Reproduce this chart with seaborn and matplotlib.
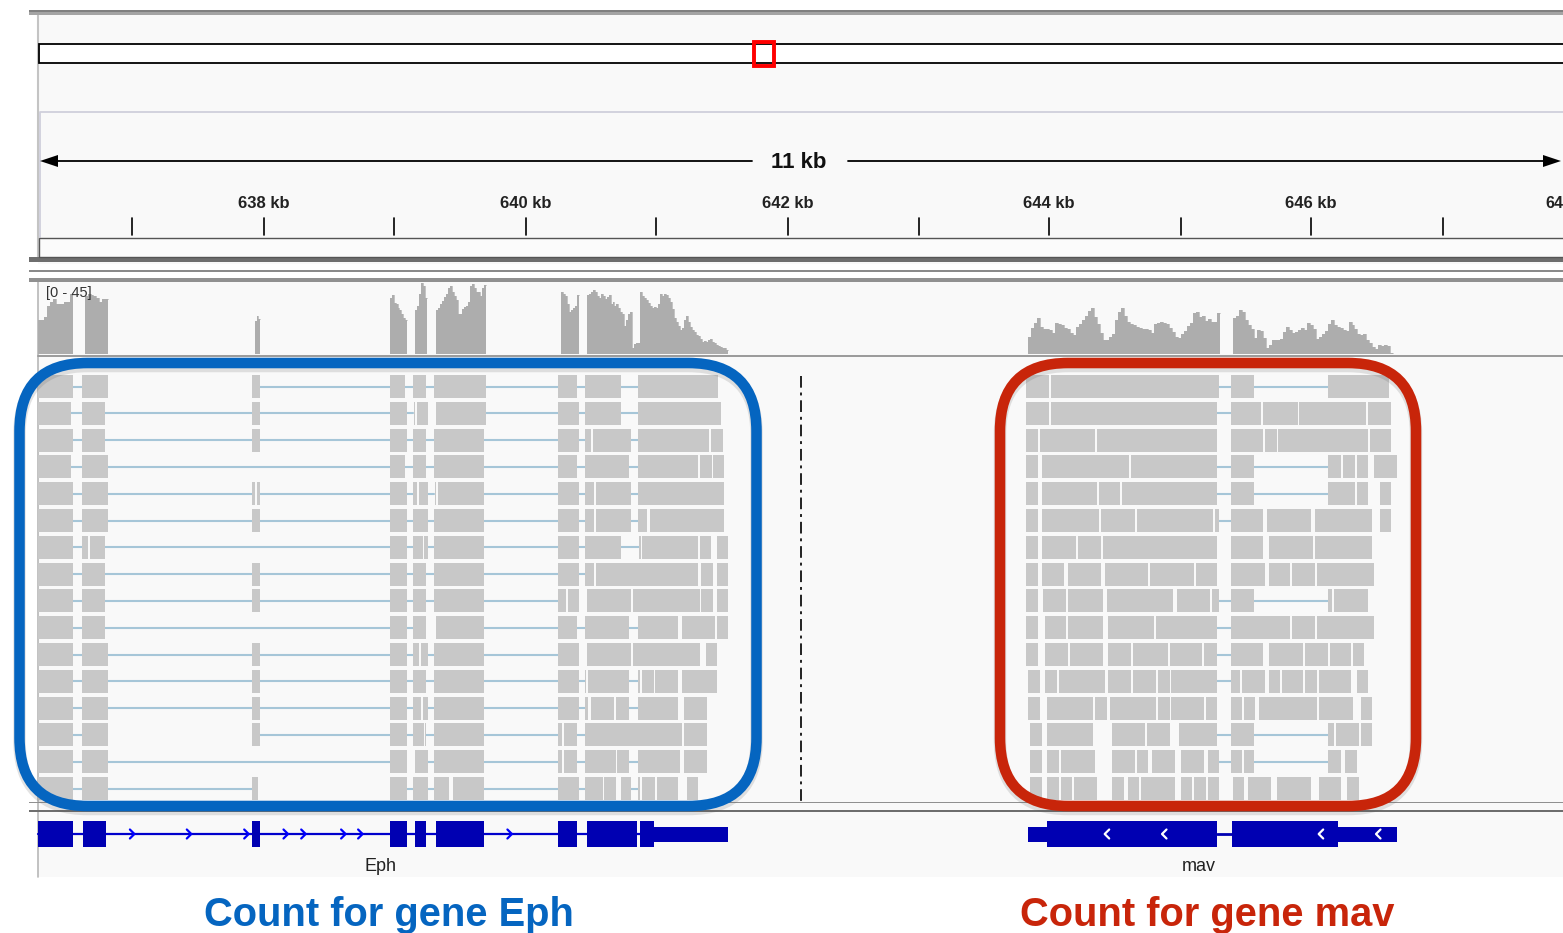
import numpy as np
import pandas as pd
import matplotlib
matplotlib.use("Agg")
import matplotlib.pyplot as plt
from matplotlib.patches import Rectangle, FancyBboxPatch
import seaborn as sns

# read blocks per row (start, end along the browser window)
eph_reads = [
    [(38,73),(82,107.6),(252,260),(390,405),(413,426),(434,485.5),(558,577),(585,621),(638,718)],
    [(38,71),(82,105),(252,260),(390,407),(413.5,415),(416.7,428),(436,485.5),(558,579),(585,621),(638,720.6)],
    [(38,73),(82,105),(252,260),(390,407),(413,426),(434,484),(558,579),(585,590.7),(592.5,630.6),(638,709),(711,722.5)],
    [(38,71),(82,107.6),(390,405),(413,426),(434,484),(558,577),(585,628.8),(638,697.7),(699.5,711.5),(713,724.3)],
    [(38,73),(82,107.6),(252,254.5),(256.5,260),(390,407),(413,417),(418.9,428),(434.5,436),(437.8,484),(558,579),(585,594),(596,630.6),(638,724.3)],
    [(38,73),(82,107.6),(252,260),(390,407),(413,428),(434,484),(558,579),(585,594),(596,630.6),(638,647),(649.5,724.3)],
    [(38,73),(82,88.3),(90.2,105),(390,407),(413,423),(424,428),(434,484),(558,579),(585,621),(639,641),(642,697.7),(699.5,711),(716.5,728)],
    [(38,73),(82,105),(252,260),(390,407),(413,426),(434,484),(558,579),(585,594),(596,697.7),(701.3,713),(716.5,728)],
    [(38,73),(82,105),(252,260),(390,407),(413,426),(434,484),(558,566),(568,579),(587,630.6),(632.5,700),(701.3,713),(716.5,728)],
    [(38,73),(82,105),(390,407),(413,426),(436,484),(558,577),(585,628.8),(638,678.4),(682,715),(716.5,728)],
    [(38,73),(82,107.6),(252,260),(390,407),(413,419),(421,428),(434,484),(558,579),(587,630.6),(632.5,700),(705.5,716.5)],
    [(38,73),(82,107.6),(252,260),(390,407),(413,426),(434,484),(558,579),(585,586),(588,628.8),(638.4,640.3),(642,653.6),(655.4,678.4),(682,716.5)],
    [(38,73),(82,107.6),(252,260),(390,407),(413,420.5),(422.6,428),(434,484),(558,579),(585,588),(590.7,614),(615.5,628.8),(638.4,678.4),(684.4,707.3)],
    [(38,73),(82,107.6),(252,260),(390,407),(413,423.5),(424.5,426),(434,484),(558,562),(564,577),(585,682),(684.4,707.3)],
    [(38,73),(82,107.6),(390,407),(414.8,428),(434,484),(558,562),(564,577),(585,615.5),(617.3,628.8),(638.4,680.2),(684.4,707.3)],
    [(38,73),(82,107.6),(252,258),(390,407),(413,428),(434,448.8),(452.9,484),(558,579),(585,602.6),(604,615.5),(620.5,630.6),(638,640),(642,655),(657,678.4),(686.5,698)],
]
eph_introns = [
    [(73,82),(260,390),(405,413),(426,434),(485,558),(577,585),(621,638)],
    [(71,82),(105,252),(260,390),(407,413),(485,558),(579,585),(621,638)],
    [(73,82),(105,252),(260,390),(407,413),(426,434),(484,558),(579,585),(630,638)],
    [(71,82),(107,390),(405,413),(426,434),(484,558),(577,585),(628,638)],
    [(73,82),(107,252),(260,390),(407,413),(428,434),(484,558),(579,585),(630,638)],
    [(73,82),(107,252),(260,390),(407,413),(428,434),(484,558),(579,585),(630,638)],
    [(73,82),(105,390),(407,413),(428,434),(484,558),(579,585),(621,639)],
    [(73,82),(105,252),(260,390),(407,413),(426,434),(484,558),(579,585)],
    [(73,82),(105,252),(260,390),(407,413),(426,434),(484,558)],
    [(73,82),(105,390),(407,413),(484,558),(577,585),(628,638)],
    [(73,82),(107,252),(260,390),(407,413),(428,434),(484,558)],
    [(73,82),(107,252),(260,390),(407,413),(426,434),(484,558),(579,585),(628,638)],
    [(73,82),(107,252),(260,390),(407,413),(428,434),(484,558),(579,585),(628,638)],
    [(73,82),(260,390),(407,413),(426,434),(484,558),(577,585)],
    [(73,82),(107,390),(428,434),(484,558),(577,585),(628,638)],
    [(73,82),(107,252),(407,413),(428,434),(484,558),(579,585),(630,638)],
]
mav_reads = [
    [(1026,1049),(1051,1219),(1230.7,1253.7),(1328,1389)],
    [(1026,1049),(1051,1217),(1230.7,1261.3),(1263,1297.7),(1299.3,1366.3),(1368.3,1391)],
    [(1026,1037.7),(1039.7,1095),(1097,1217),(1230.7,1263),(1265,1276.7),(1278.3,1368.3),(1370,1391)],
    [(1026,1037.7),(1041.7,1129.3),(1131.3,1217),(1230.7,1253.7),(1328,1341.3),(1343.3,1355),(1356.7,1368.3),(1374,1397)],
    [(1026,1037.7),(1041.7,1097),(1099,1120),(1121.7,1217),(1230.7,1253.7),(1328,1355),(1356.7,1368.3),(1379.7,1391)],
    [(1026,1037.7),(1041.7,1099),(1101,1135),(1137,1213.3),(1215.3,1219),(1230.7,1263),(1267,1311),(1315,1372),(1379.7,1391)],
    [(1026,1037.7),(1041.7,1076),(1078,1101),(1102.7,1217),(1230.7,1263),(1269,1313),(1315,1372)],
    [(1026,1037.7),(1041.7,1064.3),(1068.3,1101),(1104.7,1148.3),(1150.3,1194.3),(1196.3,1217),(1230.7,1265),(1269,1290),(1292,1315),(1316.7,1374)],
    [(1026,1037.7),(1043.3,1066.3),(1068.3,1102.7),(1106.7,1173.3),(1177.3,1209.7),(1211.7,1219),(1230.7,1253.7),(1328,1332),(1334,1368.3)],
    [(1026,1037.7),(1045.3,1066.3),(1068.3,1102.7),(1108.3,1154.3),(1156,1217),(1230.7,1290),(1292,1315),(1316.7,1374)],
    [(1026,1037.7),(1045.3,1068.3),(1070.3,1102.7),(1108.3,1131.3),(1133,1167.7),(1169.7,1202),(1204,1217),(1230.7,1263),(1269,1303.3),(1305.3,1328.3),(1330,1351),(1353,1364.3)],
    [(1028,1039.7),(1045.3,1057),(1059,1104.7),(1108.3,1131.3),(1133,1156),(1158,1169.7),(1171.3,1217),(1230.7,1240),(1242,1265),(1269,1280.3),(1282.3,1303.3),(1305.3,1316.7),(1318.7,1351),(1356.7,1368.3)],
    [(1028,1039.7),(1047.3,1093.3),(1095,1106.7),(1110.3,1156),(1158,1169.7),(1171.3,1204),(1206,1217),(1230.7,1242),(1244,1255.3),(1259.3,1316.7),(1318.7,1353),(1360.7,1372)],
    [(1030,1041.7),(1047.3,1093.3),(1112.3,1144.7),(1146.7,1169.7),(1179,1217),(1230.7,1253.7),(1328,1333.7),(1335.7,1358.7),(1360.7,1372)],
    [(1030,1041.7),(1047.3,1058.7),(1060.7,1095),(1112.3,1135),(1137,1148.3),(1152.3,1175.3),(1181,1204),(1208,1219),(1230.7,1242),(1244,1253.7),(1328,1341.3),(1345.3,1356.7)],
    [(1030,1041.7),(1047.3,1058.7),(1060.7,1072),(1074,1097),(1112.3,1123.7),(1127.7,1139),(1141,1175.3),(1181,1192.3),(1194.3,1206),(1208,1219),(1232.7,1244),(1248,1270.7),(1276.7,1311),(1318.7,1341.3),(1347.3,1358.7)],
]
mav_introns = [
    [(1219,1231),(1254,1328)],
    [(1217,1231)],
    [],
    [(1217,1231),(1254,1328)],
    [(1217,1231),(1254,1328)],
    [(1219,1231)],
    [],
    [],
    [(1219,1231),(1254,1328)],
    [(1217,1231)],
    [(1217,1231)],
    [(1217,1231)],
    [],
    [(1217,1231),(1254,1328)],
    [(1219,1231),(1254,1328)],
    [],
]

# coverage segments: (start, end, heights)
coverage = [
    (38, 73, [34,34,37,48,52,55,50,50,50,52,52,60]),
    (85, 107.6, [58,60,59,58,56,52,55,55]),
    (255, 260, [33,38,35]),
    (390, 407, [56,59,51,50,46,44,40,36,34]),
    (415, 426.5, [44,48,60,71,68,56]),
    (436, 485.5, [44,46,50,53,57,60,66,68,62,58,54,40,40,45,47,48,52,68,70,66,62,62,58,66,69]),
    (561, 579, [62,60,58,50,42,44,46,48,59]),
    (587, 640, [59,60,62,64,62,58,56,60,58,55,57,59,50,52,48,50,46,42,40,28,34,40,42,6,10,11,11]),
    (640, 728, [62,58,56,54,51,48,46,47,46,50,60,58,60,59,56,52,45,36,32,28,24,26,34,38,32,27,24,22,19,18,15,12,13,12,14,15,12,11,9,8,7,6,6,4]),
    (1028, 1220, [17,26,31,36,27,25,25,24,21,31,30,29,26,25,21,19,27,30,34,38,43,46,37,30,21,14,14,17,20,34,42,46,38,32,30,29,27,26,25,25,24,21,30,31,32,31,30,26,22,17,16,20,23,28,31,41,42,37,38,33,35,32,32,41]),
    (1233, 1393, [36,38,44,42,34,29,25,16,24,23,16,6,9,14,14,14,15,22,27,24,21,22,24,26,24,31,29,25,15,17,20,23,30,34,29,27,26,24,23,32,29,25,20,19,20,14,11,7,5,9,8,9,8,1]),
]

# gene models
eph_exons = [(38,73),(82.5,105.5),(252,260),(390,407),(415,426),(436,484),(558,577),(587,636.5),(640,654)]
eph_utr = [(654,728)]
eph_arrows = [132.4,189.3,246.7,286,303.7,343.6,360.6,509.9]
mav_exons = [(1047.3,1217.3),(1232.3,1337.7)]
mav_utr = [(1028,1047.3),(1337.7,1396.7)]
mav_arrows = [1106.7,1164,1320.7,1378]

minor_ticks = [132,394,656,919,1181,1443]
major_ticks = [264,526,788,1049,1311]
major_labels = ["638 kb","640 kb","642 kb","644 kb","646 kb"]

READ = "#c8c8c8"
COV = "#adadad"
INTRON = "#a6c6d8"
GENE = "#0000b2"
BLUE = "#0565c0"
RED = "#c8250a"

sns.set_theme(style="white")
plt.rcParams['font.family'] = ['Liberation Sans', 'DejaVu Sans']

fig = plt.figure(figsize=(15.63, 9.33), dpi=100)
ax = fig.add_axes([0, 0, 1, 1])
ax.set_xlim(0, 1563)
ax.set_ylim(933, 0)
ax.set_axis_off()

def box(x0, y0, x1, y1, **kw):
    ax.add_patch(Rectangle((x0, y0), x1 - x0, y1 - y0, **kw))

# browser chrome
box(38, 14, 1563, 877, fc="#f9f9f9", ec="none", zorder=0)
box(38, 264, 1563, 278, fc="white", ec="none", zorder=0)
ax.plot([38, 38], [14, 257], color="#c4c4c4", lw=1.5, zorder=1)
ax.plot([38, 38], [282, 877], color="#b8b8b8", lw=1.2, zorder=1)
for y0, y1, c in [(9.5, 12, "#808080"), (12, 15, "#a4a4a4"), (257, 262, "#6e6e6e"),
                  (270, 271.5, "#8a8a8a"), (278, 282, "#909090"), (802, 803, "#909090"),
                  (809.5, 812, "#6e6e6e")]:
    box(29, y0, 1563, y1, fc=c, ec="none", zorder=1)

# chromosome ideogram
box(38.5, 44, 1570, 63, fc="white", ec="black", lw=1.3, zorder=2)
box(753.5, 42, 773.5, 66, fc="none", ec="#ff0000", lw=2.8, zorder=3)

# ruler
ax.plot([39.5, 39.5, 1563], [237, 112, 112], color="#cfcfdc", lw=1.3, zorder=2)
ax.plot([55, 752], [161, 161], color="black", lw=1.3, zorder=2)
ax.plot([848, 1545], [161, 161], color="black", lw=1.3, zorder=2)
ax.fill([40, 58, 58], [161, 155, 167], color="black", lw=0, zorder=2)
ax.fill([1561, 1543, 1543], [161, 155, 167], color="black", lw=0, zorder=2)
ax.text(799, 163, "11 kb", ha="center", va="center", fontsize=16, fontweight="bold", color="#111111")
for x in minor_ticks + major_ticks:
    ax.plot([x, x], [218, 235], color="black", lw=1.2, zorder=2)
for x, lab in zip(major_ticks, major_labels):
    ax.text(x, 204, lab, ha="center", va="center", fontsize=12, fontweight="bold", color="#222222")
ax.text(1545, 204, "64", ha="left", va="center", fontsize=11.5, fontweight="bold", color="#222222")
box(38.5, 238, 1570, 257, fc="#fbfbfb", ec="#555555", lw=1.0, zorder=2)

# coverage track
cov_ax = fig.add_axes([0, 1 - 354 / 933, 1, 74 / 933])
cov_ax.patch.set_alpha(0)
for start, end, vals in coverage:
    edges = np.linspace(start, end, len(vals) + 1)
    steps = pd.DataFrame({"pos": edges, "depth": vals + vals[-1:]})
    sns.lineplot(data=steps, x="pos", y="depth", drawstyle="steps-post", estimator=None,
                 color=COV, lw=0.5, legend=False, ax=cov_ax)
    cov_ax.fill_between(steps["pos"], 0, steps["depth"], step="post", color=COV, lw=0)
cov_ax.set_xlim(0, 1563)
cov_ax.set_ylim(0, 74)
cov_ax.set_axis_off()
ax.plot([38, 1563], [356, 356], color="#9a9a9a", lw=1.4, zorder=2)
cov_ax.text(46, 61, "[0 - 45]", ha="left", va="center", fontsize=10.5, color="#333333", zorder=6)

# reads
row_h = 23
row_pitch = 26.8
intron_rows = []
for i, (reads, introns) in enumerate(zip(eph_reads, eph_introns)):
    intron_rows.append((i, introns, reads))
for i, (reads, introns) in enumerate(zip(mav_reads, mav_introns)):
    intron_rows.append((i, introns, reads))

seg_id = 0
records = []
for i, introns, reads in intron_rows:
    top = 375 + row_pitch * i
    ax.broken_barh([(a, b - a) for a, b in reads], (top, row_h), facecolors=READ, edgecolor="none", zorder=3)
    for a, b in introns:
        records.append({"x": a, "y": top + row_h / 2, "seg": seg_id})
        records.append({"x": b, "y": top + row_h / 2, "seg": seg_id})
        seg_id += 1
sns.lineplot(data=pd.DataFrame(records), x="x", y="y", units="seg", estimator=None, sort=False,
             color=INTRON, lw=1.5, legend=False, ax=ax, zorder=2.5)
ax.set_xlim(0, 1563)
ax.set_ylim(933, 0)

# divider between genes
ax.plot([801, 801], [376, 802], color="#222222", lw=1.4, ls=(0, (6, 2.5, 1.5, 2.5)), zorder=2)

# gene track
ax.plot([38, 654], [834, 834], color="#0000cc", lw=1.6, zorder=3)
ax.plot([1217, 1233], [834, 834], color=GENE, lw=2, zorder=3)
ax.broken_barh([(a, b - a) for a, b in eph_exons + mav_exons], (820.5, 26.5), facecolors=GENE, edgecolor="none", zorder=4)
ax.broken_barh([(a, b - a) for a, b in eph_utr + mav_utr], (826.5, 15), facecolors=GENE, edgecolor="none", zorder=4)
for x in eph_arrows:
    ax.plot([x - 2.5, x + 2, x - 2.5], [829.5, 834, 838.5], color="#0000ff", lw=1.6, zorder=5)
for x in mav_arrows:
    ax.plot([x + 2.5, x - 2, x + 2.5], [829.5, 834, 838.5], color="white", lw=1.6, zorder=5)
ax.text(380, 866.5, "Eph", ha="center", va="center", fontsize=13, color="#222222")
ax.text(1199, 866.5, "mav", ha="center", va="center", fontsize=13, color="#222222")

# rounded call-outs
for x0, x1, c in [(19.5, 756.5, BLUE), (1000, 1416, RED)]:
    shadow = FancyBboxPatch((x0, 366), x1 - x0, 443, boxstyle="round,pad=0,rounding_size=68",
                            fc="none", ec="#555555", lw=9, alpha=0.16, zorder=6)
    ax.add_patch(shadow)
    ax.add_patch(FancyBboxPatch((x0, 363), x1 - x0, 443, boxstyle="round,pad=0,rounding_size=68",
                                fc="none", ec=c, lw=7.6, zorder=7))

ax.text(389, 915, "Count for gene Eph", ha="center", va="center", fontsize=28.7, fontweight="bold", color=BLUE)
ax.text(1207, 915, "Count for gene mav", ha="center", va="center", fontsize=28.7, fontweight="bold", color=RED)

fig.savefig("out.png", dpi=100, facecolor="white")
plt.close(fig)
